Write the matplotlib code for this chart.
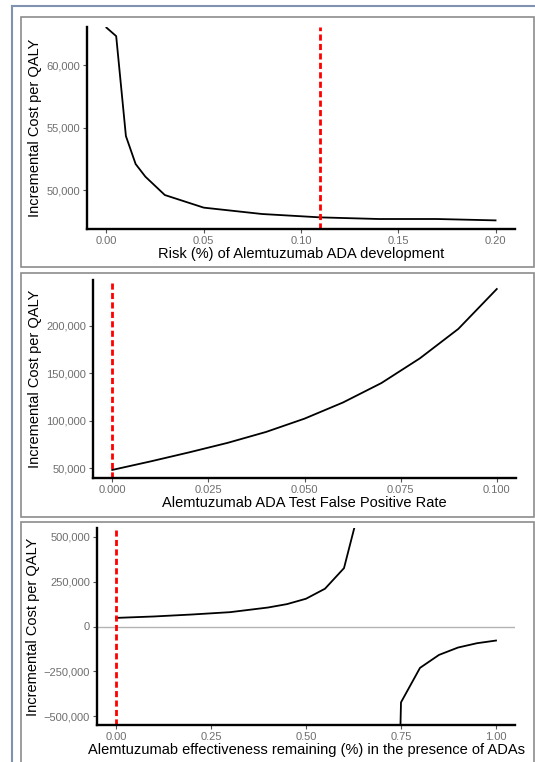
#Three one-way sensitivity plots for the Alemtuzumab ADA model, stacked in boxes

import matplotlib
matplotlib.use('Agg')
import matplotlib.pyplot as plt
from matplotlib.ticker import StrMethodFormatter
from matplotlib.patches import Rectangle
from matplotlib.lines import Line2D

plt.rcParams['font.family'] = ['Liberation Sans', 'DejaVu Sans']

#Panel 1: risk of ADA development
risk = [0.0, 0.005, 0.01, 0.015, 0.02, 0.03, 0.05, 0.08, 0.11, 0.14, 0.17, 0.20]
icer_risk = [63000, 62320, 54320, 52080, 51070, 49600, 48590, 48080, 47810, 47680, 47680, 47570]
risk_base = 0.11

#Panel 2: test false positive rate
fpr = [0.0, 0.01, 0.02, 0.03, 0.04, 0.05, 0.06, 0.07, 0.08, 0.09, 0.10]
icer_fpr = [48000, 57000, 66500, 76500, 88000, 102000, 119000, 139500, 165500, 196500, 238500]
fpr_base = 0.0

#Panel 3: effectiveness remaining with ADAs (ICER blows up around 0.65-0.7)
eff_pos = [0.0, 0.1, 0.2, 0.3, 0.4, 0.45, 0.5, 0.55, 0.6, 0.65]
icer_pos = [48000, 56000, 67000, 80000, 106000, 125000, 155000, 211000, 326000, 740000]
eff_neg = [0.7, 0.75, 0.8, 0.85, 0.9, 0.95, 1.0]
icer_neg = [-5000000, -423500, -231000, -158600, -117500, -93300, -78400]
eff_base = 0.0

W, H = 535, 762
fig = plt.figure(figsize=(W/100, H/100), dpi=100)

def box(x0, y0, x1, y1, col, lw):
    #rectangle given in pixels from the top left corner
    fig.add_artist(Rectangle((x0/W, 1-y1/H), (x1-x0)/W, (y1-y0)/H, transform=fig.transFigure,
                             fill=False, edgecolor=col, linewidth=lw))

#outer blue-grey frame (only top and left show) and the grey panel boxes
fig.add_artist(Line2D([11.5/W, 11.5/W], [0, 1-6/H], transform=fig.transFigure, color='#7f93b0', lw=1.5))
fig.add_artist(Line2D([11.5/W, 1], [1-6/H, 1-6/H], transform=fig.transFigure, color='#7f93b0', lw=1.5))
box(21, 17, 534, 267, '#8c8c8c', 1.2)
box(21, 273, 534, 517, '#8c8c8c', 1.2)
box(21, 522, 534, 770, '#8c8c8c', 1.2)

def make_axes(l, t, r, b):
    ax = fig.add_axes([l/W, 1-b/H, (r-l)/W, (b-t)/H])
    for s in ['top', 'right']:
        ax.spines[s].set_visible(False)
    for s in ['left', 'bottom']:
        ax.spines[s].set_linewidth(1.7)
        ax.spines[s].set_color('black')
    ax.tick_params(direction='out', length=3, width=0.8, color='#555555',
                   labelcolor='#6e6e6e', labelsize=8, pad=2)
    ax.yaxis.set_major_formatter(StrMethodFormatter('{x:,.0f}'))
    ax.set_ylabel('Incremental Cost per QALY', fontsize=10.5, labelpad=3)
    return ax

ax1 = make_axes(87, 27, 515, 229)
ax1.plot(risk, icer_risk, color='black', lw=1.3)
ax1.axvline(risk_base, color='red', lw=2, dashes=(2.2, 1.2))
ax1.set_xlim(-0.01, 0.21)
ax1.set_ylim(46880, 63050)
ax1.set_xticks([0.0, 0.05, 0.10, 0.15, 0.20])
ax1.set_yticks([50000, 55000, 60000])
ax1.xaxis.set_major_formatter(StrMethodFormatter('{x:.2f}'))
ax1.set_xlabel('Risk (%) of Alemtuzumab ADA development', fontsize=10.5, labelpad=1)

ax2 = make_axes(93, 280, 516, 478)
ax2.plot(fpr, icer_fpr, color='black', lw=1.3)
ax2.axvline(fpr_base, color='red', lw=2, dashes=(2.2, 1.2))
ax2.set_xlim(-0.005, 0.105)
ax2.set_ylim(39500, 248000)
ax2.set_xticks([0.0, 0.025, 0.05, 0.075, 0.10])
ax2.set_yticks([50000, 100000, 150000, 200000])
ax2.xaxis.set_major_formatter(StrMethodFormatter('{x:.3f}'))
ax2.set_xlabel('Alemtuzumab ADA Test False Positive Rate', fontsize=10.5, labelpad=1)

ax3 = make_axes(97, 528, 515, 725)
ax3.axhline(0, color='#b3b3b3', lw=1.0)
ax3.plot(eff_pos, icer_pos, color='black', lw=1.3)
ax3.plot(eff_neg, icer_neg, color='black', lw=1.3)
ax3.axvline(eff_base, color='red', lw=2, dashes=(2.2, 1.2))
ax3.set_xlim(-0.05, 1.05)
ax3.set_ylim(-550000, 550000)
ax3.set_xticks([0.0, 0.25, 0.5, 0.75, 1.0])
ax3.set_yticks([-500000, -250000, 0, 250000, 500000])
ax3.xaxis.set_major_formatter(StrMethodFormatter('{x:.2f}'))
ax3.set_xlabel('Alemtuzumab effectiveness remaining (%) in the presence of ADAs', fontsize=10.5, labelpad=1)

plt.savefig('out.png', dpi=100)
